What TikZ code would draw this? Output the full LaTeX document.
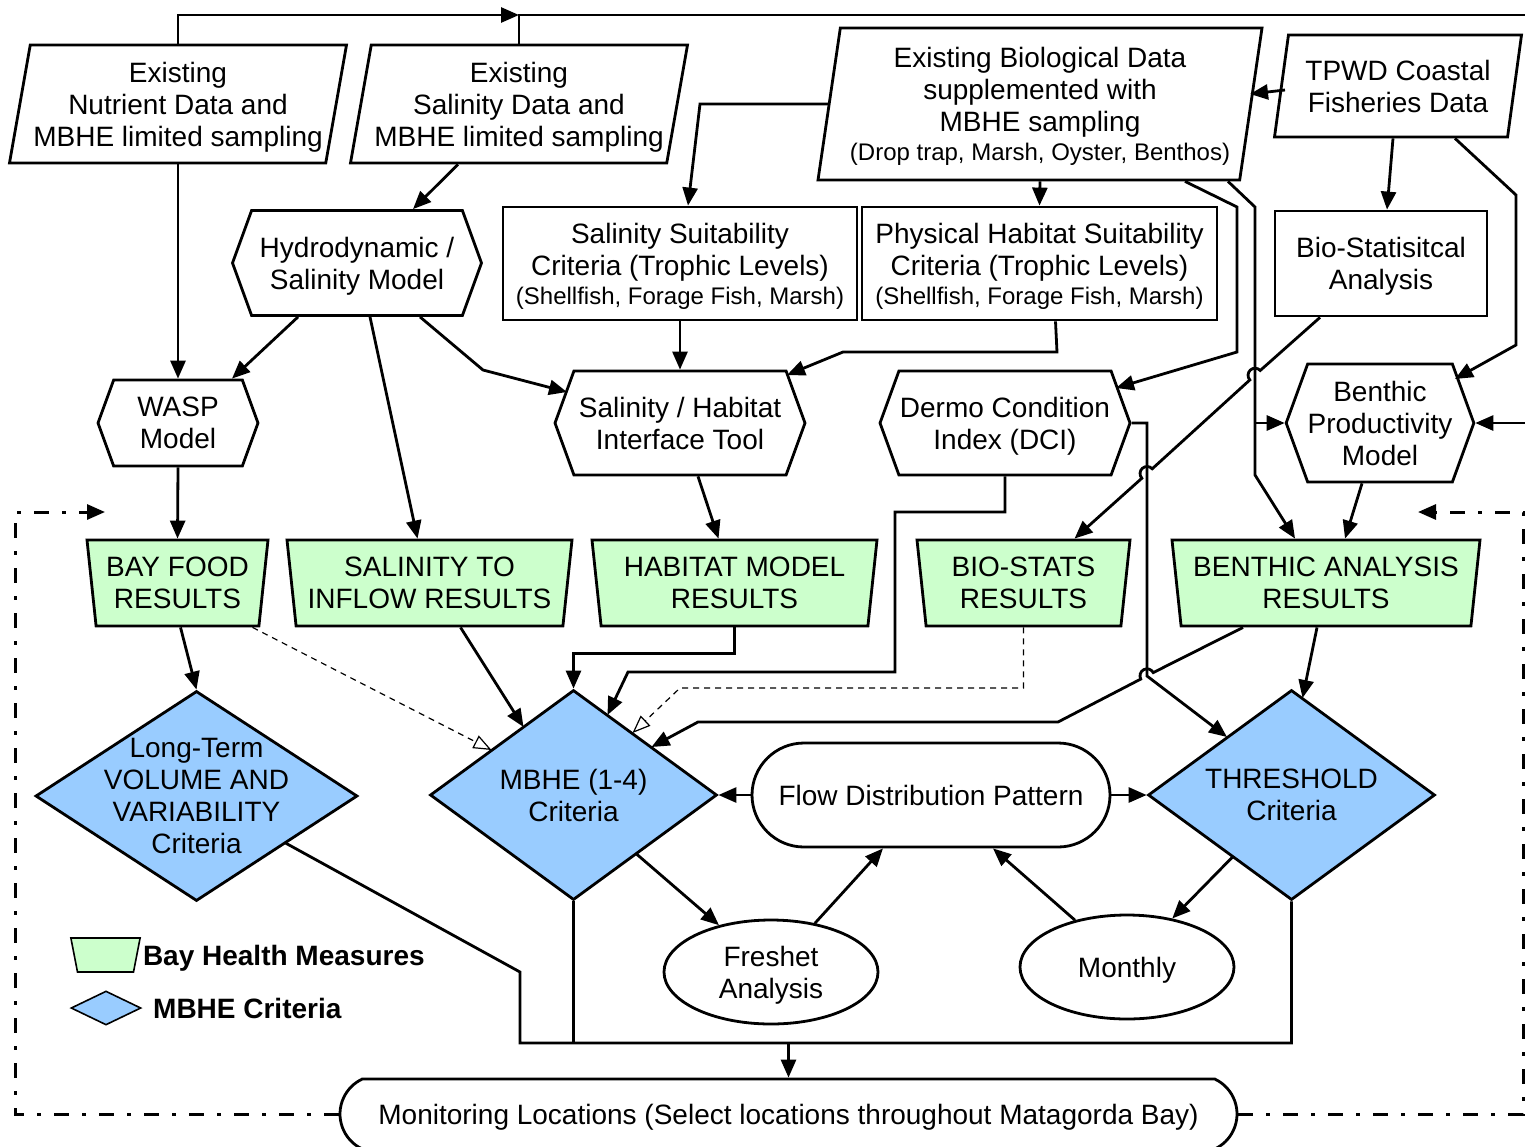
\documentclass[tikz,border=0pt]{standalone}
\usepackage{fontspec}
\setmainfont{Liberation Sans}
\usetikzlibrary{positioning,calc,arrows.meta,shapes.geometric,shapes.misc,shapes.symbols}
\definecolor{healthgreen}{RGB}{204,255,204}
\definecolor{critblue}{RGB}{153,204,255}

\begin{document}
\begin{tikzpicture}[x=0.5pt,y=-0.5pt,font=\fontsize{14}{16}\selectfont,every node/.style={text depth=0pt}]
  \tikzstyle{data}=[trapezium, trapezium left angle=78, trapezium right angle=102, trapezium stretches=true, trapezium stretches body=true, draw, line width=1.4pt, inner xsep=0pt, align=center]
  \tikzstyle{model}=[signal, signal to=west and east, signal pointer angle=140, draw, line width=1.4pt, inner sep=0pt, align=center]
  \tikzstyle{suit}=[rectangle, draw, line width=1.4pt, inner sep=0pt, align=center]
  \tikzstyle{result}=[trapezium, trapezium left angle=100, trapezium right angle=100, trapezium stretches=true, trapezium stretches body=true, draw, line width=1.4pt, fill=healthgreen, inner sep=0pt, minimum height=43pt, align=center]
  \tikzstyle{decision}=[diamond, aspect=1.37, draw, line width=1.4pt, fill=critblue, inner sep=0pt, minimum height=105pt, align=center]
  \tikzstyle{flowbox}=[rounded rectangle, draw, line width=1.4pt, inner sep=0pt, align=center]
  \tikzstyle{period}=[ellipse, draw, line width=1.4pt, inner sep=0pt, minimum width=107pt, minimum height=52pt, align=center]
  \tikzstyle{connect}=[-{Triangle[length=9pt,width=7.5pt]}, line width=1.4pt]
  \tikzstyle{link}=[line width=1.4pt]
  \tikzstyle{weak}=[-{Triangle[open,length=9pt,width=7pt]}, line width=0.6pt, dash pattern=on 3pt off 2.5pt]
  \tikzstyle{feedback}=[-{Triangle[length=9pt,width=7.5pt]}, line width=1.5pt, dash pattern=on 7.5pt off 6.5pt on 2pt off 6.5pt]
  \useasboundingbox (0,0) rectangle (1525,1146);
    \node[data, minimum width=168.5pt, minimum height=59pt] (nutrient) at (178,104) {Existing\\Nutrient Data and\\MBHE limited sampling};
    \node[data, minimum width=168.5pt, minimum height=59pt] (saldata) at (519,104) {Existing\\Salinity Data and\\MBHE limited sampling};
    \node[data, trapezium left angle=80, trapezium right angle=100, minimum width=222pt, minimum height=76pt] (biodata) at (1040,104) {Existing Biological Data\\supplemented with\\MBHE sampling\\[-1.5pt]{\fontsize{12}{14}\selectfont (Drop trap, Marsh, Oyster, Benthos)}};
    \node[data, minimum width=123.5pt, minimum height=51pt] (tpwd) at (1398,86) {TPWD Coastal\\Fisheries Data};
    \node[model, minimum width=124.5pt, minimum height=52.5pt] (hydro) at (357,263) {Hydrodynamic /\\Salinity Model};
    \node[suit, minimum width=177pt, minimum height=56.5pt] (salsuit) at (680,263.5) {Salinity Suitability\\Criteria (Trophic Levels)\\[-1.5pt]{\fontsize{12}{14}\selectfont (Shellfish, Forage Fish, Marsh)}};
    \node[suit, minimum width=177.5pt, minimum height=56.5pt] (physsuit) at (1039.5,263.5) {Physical Habitat Suitability\\Criteria (Trophic Levels)\\[-1.5pt]{\fontsize{12}{14}\selectfont (Shellfish, Forage Fish, Marsh)}};
    \node[suit, minimum width=106pt, minimum height=52.5pt] (biostat) at (1381,263.5) {Bio-Statisitcal\\Analysis};
    \node[model, minimum width=80pt, minimum height=43pt] (wasp) at (178,423) {WASP\\Model};
    \node[model, minimum width=125pt, minimum height=52pt] (iface) at (680,423) {Salinity / Habitat\\Interface Tool};
    \node[model, minimum width=125pt, minimum height=52pt] (dermo) at (1005,423) {Dermo Condition\\Index (DCI)};
    \node[model, minimum width=90pt, minimum height=59pt] (bpm) at (1380,423) {Benthic\\Productivity\\Model};
    \node[result, minimum width=90.5pt] (bayfood) at (177.5,583) {BAY FOOD\\RESULTS};
    \node[result, minimum width=142.5pt] (salinflow) at (429.5,583) {SALINITY TO\\INFLOW RESULTS};
    \node[result, minimum width=142.5pt] (habitat) at (734.5,583) {HABITAT MODEL\\RESULTS};
    \node[result, minimum width=106.5pt] (biostats) at (1023.5,583) {BIO-STATS\\RESULTS};
    \node[result, minimum width=154pt] (benthic) at (1326,583) {BENTHIC ANALYSIS\\RESULTS};
    \node[decision, minimum width=161pt, inner sep=-12pt] (longterm) at (196.5,796) {Long-Term\\VOLUME AND\\VARIABILITY\\Criteria};
    \node[decision, minimum width=143.5pt] (mbhe) at (573.5,795) {MBHE (1-4)\\Criteria};
    \node[decision, minimum width=143.5pt] (thresh) at (1291.5,795) {THRESHOLD\\Criteria};
    \node[flowbox, rounded rectangle arc length=180, minimum width=179pt, minimum height=52pt] (flow) at (931,795) {Flow Distribution Pattern};
    \node[period] (freshet) at (771,972) {Freshet\\Analysis};
    \node[period] (monthly) at (1127,967) {Monthly};
    \node[flowbox, rounded rectangle arc length=130, minimum width=448.5pt, minimum height=35pt] (monitor) at (788.5,1114) {Monitoring Locations (Select locations throughout Matagorda Bay)};
    \node[trapezium, trapezium left angle=101, trapezium right angle=101, trapezium stretches=true, draw, line width=0.8pt, fill=healthgreen, inner sep=0pt, text width=28pt] (legbhm) at (105.5,955) {\rule{0pt}{17pt}};
    \node[right=2.5pt of legbhm, font=\fontsize{14}{16}\selectfont\bfseries, inner sep=0pt] (legbhmtext) {Bay Health Measures};
    \node[decision, minimum width=35pt, minimum height=17pt, line width=0.8pt] (legcrit) at (106,1008) {};
    \node[right=5.5pt of legcrit, font=\fontsize{14}{16}\selectfont\bfseries, inner sep=0pt] (legcrittext) {MBHE Criteria};
    \coordinate (topjoin) at (519,15);
    \coordinate (drop) at (788.5,1043);
    \coordinate (fbL) at (105,512);
    \coordinate (fbR) at (1418,512);
    % inputs along the top
    \draw[connect] (nutrient.center |- nutrient.north) |- (topjoin);
    \draw[connect] (saldata.center |- saldata.north) -- (topjoin) -- (1540,15) |- (bpm.east);
    \draw[connect] (nutrient.center |- nutrient.south) -- (wasp.north);
    \draw[connect] ($(saldata.center |- saldata.south)+(-61,0)$) -- ($(hydro.north)+(56,0)$);
    \draw[connect] (biodata.west) -- (700,104) -- ($(salsuit.north)+(8,0)$);
    \draw[connect] (biodata.center |- biodata.south) -- (physsuit.north);
    \draw[connect] ($(biodata.center |- biodata.south)+(145,0)$) -- (1237,207) -- (1237,352) -- ($(dermo.center)+(111,-35)$);
    \draw[connect] ($(biodata.center |- biodata.south)+(188,0)$) -- (1255,207) -- (1255,475) -- ($(benthic.north)+(-31,0)$);
    \draw[connect] (1255,423) -- (bpm.west);
    \draw[connect] ($(tpwd.center |- tpwd.south)+(-5,0)$) -- ($(biostat.north)+(6,0)$);
    \draw[connect] ($(tpwd.center |- tpwd.south)+(57,0)$) -- (1516,195) -- (1516,345) -- ($(bpm.center)+(75,-44)$);
    \draw[connect] ($(tpwd.center)+(-113,4)$) -- ($(biodata.center)+(210,-10)$);
    \draw[connect] ($(biostat.south)+(-61,0)$) -- (1260.2,370.5) arc[start angle=-42.3, end angle=-222.3, radius=7] -- (1152.2,468.8) arc[start angle=-42.3, end angle=-222.3, radius=7] -- ($(biostats.north)+(51,0)$);
    % models
    \draw[connect] ($(hydro.south)+(-59,0)$) -- ($(wasp.north)+(54,0)$);
    \draw[connect] ($(hydro.south)+(13,0)$) -- ($(salinflow.north)+(-12,0)$);
    \draw[connect] ($(hydro.south)+(63,0)$) -- (483,370) -- ($(iface.center)+(-113,-31)$);
    \draw[connect] (salsuit.south) -- (iface.north);
    \draw[connect] ($(physsuit.south)+(16,0)$) -- (1057,352) -- (843,352) -- ($(iface.center)+(107,-48)$);
    \draw[connect] (wasp.south) -- (bayfood.north);
    \draw[connect] ($(iface.south)+(18,0)$) -- ($(habitat.north)+(-16,0)$);
    \draw[connect] (dermo.south) -- (1005,512) -- (895,512) -- (895,672) -- (628,672) -- ($(mbhe.center)+(34,-80)$);
    \draw[connect] ($(bpm.south)+(-18,0)$) -- ($(benthic.north)+(19,0)$);
    \draw[connect] (dermo.east) -- (1147,423) -- (1147,676) -- ($(thresh.center)+(-64.5,-58)$);
    % results to criteria
    \draw[weak] (biostats.south) -- (1023.5,688) -- (680,688) -- ($(mbhe.center)+(59,-62)$);
    \draw[weak] ($(bayfood.south)+(75,0)$) -- ($(mbhe.center)+(-82,-45)$);
    \draw[connect] ($(bayfood.south)+(3,0)$) -- (longterm.north);
    \draw[connect] ($(salinflow.south)+(31,0)$) -- ($(mbhe.center)+(-50,-68)$);
    \draw[connect] (habitat.south) -- ++(0,26) -| (mbhe.north);
    \draw[connect] ($(benthic.south)+(-9,0)$) -- ($(thresh.center)+(11,-97)$);
    \draw[connect] ($(benthic.south)+(-83,0)$) -- (1153.2,672.6) arc[start angle=-27.4, end angle=-207.4, radius=7] -- (1058,722) -- (698,722) -- ($(mbhe.center)+(78,-48)$);
    \draw[connect] (flow.west) -- (mbhe.east);
    \draw[connect] (flow.east) -- (thresh.west);
    \draw[connect] ($(mbhe.center)+(63,59)$) -- (freshet.138);
    \draw[connect] (freshet.48) -- ($(flow.south)+(-48,0)$);
    \draw[connect] (monthly.138) -- ($(flow.south)+(62,0)$);
    \draw[connect] ($(thresh.center)+(-59,62)$) -- (monthly.47);
    % to monitoring
    \draw[link] ($(longterm.center)+(89,47)$) -- (520,972) -- (520,1043) -- (1291.5,1043) -- (thresh.south);
    \draw[link] (mbhe.south) -- (573.5,1043);
    \draw[connect] (drop) -- (monitor.north);
    \draw[feedback] (monitor.west) -- (15,1114) -- (15,512) -- (fbL);
    \draw[feedback] (monitor.east) -- (1523,1114) -- (1523,512) -- (fbR);
\end{tikzpicture}
\end{document}
